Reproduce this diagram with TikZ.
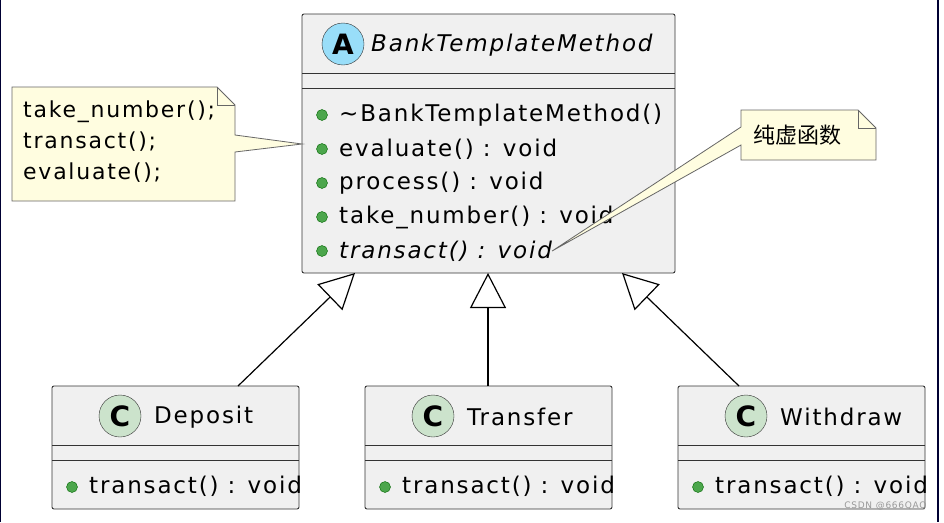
\documentclass[tikz,border=0pt]{standalone}
\usepackage{fontspec}
\setmainfont{DejaVu Sans}[LetterSpace=8]
\newfontfamily\cjk{Noto Sans CJK SC}
\usetikzlibrary{arrows.meta}

\tikzset{
  classbox/.style={draw=black!80, fill=black!6, rounded corners=2pt, line width=0.9pt},
  notebox/.style={draw=black!60, fill=yellow!12, line width=0.8pt},
  member/.style={anchor=west, inner sep=0pt, font=\fontsize{23}{26}\selectfont},
  dot/.style={circle, draw=green!40!black, fill=green!50!black!70, inner sep=0pt, minimum size=11pt},
  inherit/.style={-{Triangle[fill=white, length=35pt, width=36pt]}, line width=1.2pt},
}

\begin{document}
\begin{tikzpicture}[x=1pt, y=-1pt]
\useasboundingbox (0,0) rectangle (944,522);
\fill[white] (0,0) rectangle (944,522);
\draw[blue!20!black, line width=2pt] (0,0) -- (0,522);
\draw[blue!20!black, line width=2pt] (938,0) -- (938,522);

% abstract class
\draw[classbox] (302,14) rectangle (675,273);
\draw[black!80, line width=0.8pt] (302,73) -- (675,73) (302,88) -- (675,88);
\node[circle, draw=black!80, fill=cyan!40!white, minimum size=42pt, inner sep=0pt,
      font=\fontsize{28}{28}\selectfont\bfseries] (iconA) at (343,44) {A};
\node[member, font=\fontsize{23}{26}\selectfont\itshape] (bankname) at (371,45) {BankTemplateMethod};
\foreach \y/\txt in {115/{\textasciitilde BankTemplateMethod()}, 149/{evaluate() : void},
                     183/{process() : void}, 217/{take\_number() : void}} {
  \node[dot] at (322,\y) {};
  \node[member] at (339,\y) {\txt};
}
\node[dot] at (322,251) {};
\node[member, font=\fontsize{23}{26}\selectfont\itshape] (transact) at (339,251) {transact() : void};

% left note
\draw[notebox] (12,87) -- (217,87) -- (235,105) -- (235,135) -- (302,144) -- (235,152)
  -- (235,201) -- (12,201) -- cycle;
\draw[notebox, fill=none] (217,87) -- (217,105) -- (235,105);
\node[anchor=north west, align=left, inner sep=0pt, font=\fontsize{22}{31}\selectfont]
  (leftnote) at (23,101) {take\_number();\\transact();\\evaluate();};

% right note
\draw[notebox] (741,110) -- (858,110) -- (876,128) -- (876,160) -- (741,160) -- (741,145)
  -- (transact.east) -- (741,127) -- cycle;
\draw[notebox, fill=none] (858,110) -- (858,128) -- (876,128);
\node[anchor=west, inner sep=0pt, font=\cjk\fontsize{22}{24}\selectfont] (rightnote) at (753,135) {纯虚函数};

% subclasses
\foreach \x/\name in {52/Deposit, 365/Transfer, 678/Withdraw} {
  \draw[classbox] (\x,386) rectangle ++(247,123);
  \draw[black!80, line width=0.8pt] (\x,445) -- ++(247,0) (\x,460) -- ++(247,0);
  \node[circle, draw=black!80, fill=green!45!black!20!white, minimum size=42pt, inner sep=0pt,
        font=\fontsize{28}{28}\selectfont\bfseries] at (\x+68,416) {C};
  \node[member] (\name) at (\x+102,417) {\name};
  \node[dot] at (\x+20,487) {};
  \node[member] at (\x+37,486) {transact() : void};
}

% inheritance
\draw[inherit] (238,386) -- (355,273);
\draw[inherit] (488,386) -- (488,273);
\draw[inherit] (739,386) -- (622,273);

\node[anchor=east, text=black!40, font=\fontsize{9}{9}\selectfont] (mark) at (930,506) {CSDN @666QAQ};
\end{tikzpicture}
\end{document}
